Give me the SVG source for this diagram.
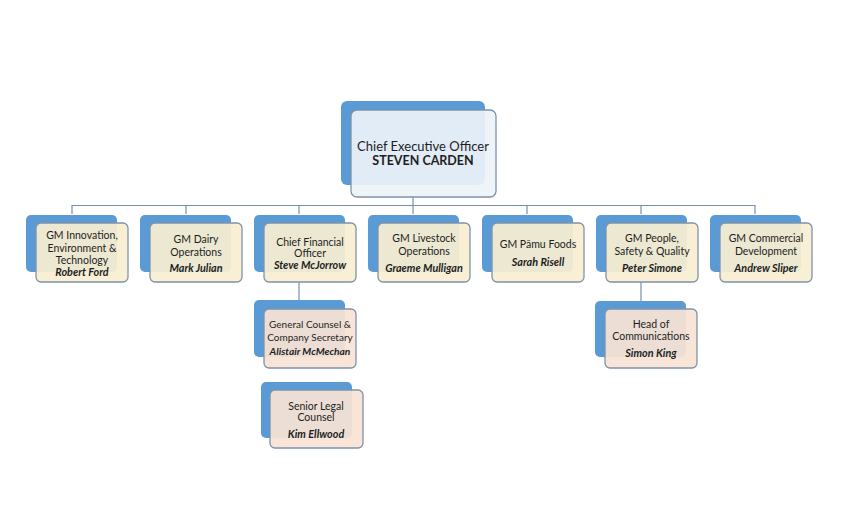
<svg xmlns="http://www.w3.org/2000/svg" width="850" height="529" viewBox="0 0 850 529">
<style>
.bg{fill:#ffffff}
.back{fill:#5b9bd5}
.front{stroke:#7d93ab;stroke-width:1.3}
.l2{fill:#f7eed2;fill-opacity:0.93}
.l3{fill:#f7e3d5;fill-opacity:0.93}
.ceo{fill:#eef3f8;fill-opacity:0.92}
.conn{fill:none;stroke:#7390ad;stroke-width:1.2}
text{font-family:Lato,"Open Sans","Liberation Sans",sans-serif;fill:#1e1e1e;text-anchor:middle}
.t{font-size:10.5px}
.s{font-size:10px}
.n{font-weight:bold;font-style:italic;font-size:10.8px}
</style>
<rect class="bg" width="850" height="529"/>
<g id="connectors">
<path class="conn" d="M413,197V205.5M72,214V205.5H755V214M186,205.5V214M299,205.5V214M413,205.5V214M527,205.5V214M641,205.5V214"/>
<path class="conn" d="M299,282V300M641,282V301"/>
</g>
<g id="ceo">
<rect class="back" x="341" y="101" width="144" height="84" rx="6"/>
<rect class="front ceo" x="351" y="110" width="145" height="87" rx="6"/>
<text x="423" y="150.5" style="font-size:13px">Chief Executive Officer</text>
<text x="423" y="165" style="font-size:12.5px;font-weight:bold">STEVEN CARDEN</text>
</g>
<g id="gm-innovation">
<rect class="back" x="26" y="215" width="91" height="57" rx="5"/>
<rect class="front l2" x="36" y="223" width="92" height="59" rx="5"/>
<text class="t" x="82" y="239">GM Innovation,</text>
<text class="t" x="82" y="251.5">Environment &amp;</text>
<text class="t" x="82" y="263.5">Technology</text>
<text class="t n" x="82" y="275.5">Robert Ford</text>
</g>
<g id="gm-dairy">
<rect class="back" x="140" y="215" width="91" height="57" rx="5"/>
<rect class="front l2" x="150" y="223" width="92" height="59" rx="5"/>
<text class="t" x="196" y="243">GM Dairy</text>
<text class="t" x="196" y="256">Operations</text>
<text class="t n" x="196" y="272">Mark Julian</text>
</g>
<g id="cfo">
<rect class="back" x="254" y="215" width="91" height="57" rx="5"/>
<rect class="front l2" x="264" y="223" width="92" height="59" rx="5"/>
<text class="t" x="310" y="246">Chief Financial</text>
<text class="t" x="310" y="257">Officer</text>
<text class="t n" x="310" y="269">Steve McJorrow</text>
</g>
<g id="gm-livestock">
<rect class="back" x="368" y="215" width="91" height="57" rx="5"/>
<rect class="front l2" x="378" y="223" width="92" height="59" rx="5"/>
<text class="t" x="424" y="242">GM Livestock</text>
<text class="t" x="424" y="255">Operations</text>
<text class="t n" x="424" y="272">Graeme Mulligan</text>
</g>
<g id="gm-pamu">
<rect class="back" x="482" y="215" width="91" height="57" rx="5"/>
<rect class="front l2" x="492" y="223" width="92" height="59" rx="5"/>
<text class="t" x="538" y="248">GM Pāmu Foods</text>
<text class="t n" x="538" y="266">Sarah Risell</text>
</g>
<g id="gm-people">
<rect class="back" x="596" y="215" width="91" height="57" rx="5"/>
<rect class="front l2" x="606" y="223" width="92" height="59" rx="5"/>
<text class="t" x="652" y="242">GM People,</text>
<text class="t" x="652" y="255">Safety &amp; Quality</text>
<text class="t n" x="652" y="272">Peter Simone</text>
</g>
<g id="gm-commercial">
<rect class="back" x="710" y="215" width="91" height="57" rx="5"/>
<rect class="front l2" x="720" y="223" width="92" height="59" rx="5"/>
<text class="t" x="766" y="242">GM Commercial</text>
<text class="t" x="766" y="255">Development</text>
<text class="t n" x="766" y="272">Andrew Sliper</text>
</g>
<g id="general-counsel">
<rect class="back" x="254" y="300" width="91" height="57" rx="5"/>
<rect class="front l3" x="264" y="309" width="92" height="59" rx="5"/>
<text class="s" x="310" y="328">General Counsel &amp;</text>
<text class="s" x="310" y="341">Company Secretary</text>
<text class="s n" x="310" y="355" style="font-size:10.2px">Alistair McMechan</text>
</g>
<g id="senior-legal">
<rect class="back" x="261" y="382" width="91" height="56" rx="5"/>
<rect class="front l3" x="270" y="390" width="93" height="58" rx="5"/>
<text class="t" x="316" y="410">Senior Legal</text>
<text class="t" x="316" y="421">Counsel</text>
<text class="t n" x="316" y="438">Kim Ellwood</text>
</g>
<g id="head-comms">
<rect class="back" x="595" y="301" width="91" height="56" rx="5"/>
<rect class="front l3" x="605" y="309" width="92" height="59" rx="5"/>
<text class="t" x="651" y="328">Head of</text>
<text class="t" x="651" y="340">Communications</text>
<text class="t n" x="651" y="357">Simon King</text>
</g>
</svg>
